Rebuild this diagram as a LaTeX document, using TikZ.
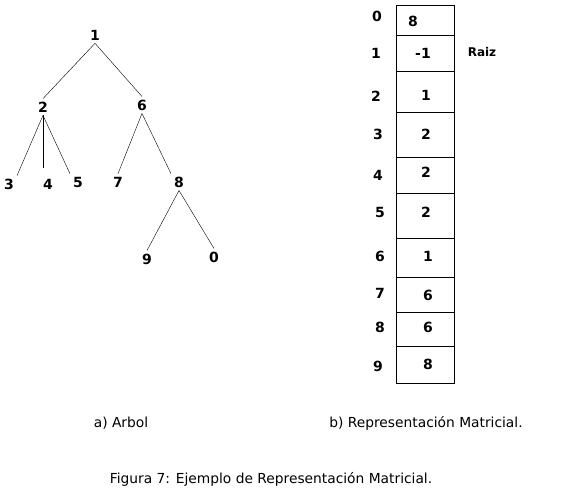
\documentclass[tikz,border=0pt]{standalone}
\usepackage{fontspec}
\setmainfont{DejaVu Sans}
\begin{document}
\begin{tikzpicture}[x=1pt,y=-1pt,
        num/.style={font=\fontsize{14}{14}\selectfont\bfseries, inner sep=3pt},
        caption/.style={font=\fontsize{13.8}{14}\selectfont}]
        \useasboundingbox (0,0) rectangle (588,501);

        \node[num] (n1) at (95,35) {1};
        \node[num] (n2) at (43,107) {2};
        \node[num] (n6) at (142,105) {6};
        \node[num] (n3) at (9,184) {3};
        \node[num] (n4) at (48,184) {4};
        \node[num] (n5) at (78,182) {5};
        \node[num] (n7) at (118,182) {7};
        \node[num] (n8) at (179,182) {8};
        \node[num] (n9) at (147,259) {9};
        \node[num] (n0) at (214,257) {0};

        \draw (n1.south) -- (n2.north);
        \draw (n1.south) -- (n6.north);
        \draw (n2.south) -- (n3.north east);
        \draw (n2.south) -- ([yshift=8pt]n2.south |- n4.north);
        \draw (n2.south) -- (n5.north west);
        \draw (n6.south) -- (n7.north);
        \draw (n6.south) -- (n8.north west);
        \draw (n8.south) -- (n9.north);
        \draw (n8.south) -- (n0.north);

        \draw (396,5) rectangle (454,383);
        \draw (396,35) -- (454,35);
        \draw (396,71) -- (454,71);
        \draw (396,112) -- (454,112);
        \draw (396,157) -- (454,157);
        \draw (396,193) -- (454,193);
        \draw (396,238) -- (454,238);
        \draw (396,277) -- (454,277);
        \draw (396,312) -- (454,312);
        \draw (396,346) -- (454,346);

        \node[num] (i0) at (377,16) {0};
        \node[num] (i1) at (376,53) {1};
        \node[num] (i2) at (376,96) {2};
        \node[num] (i3) at (378,134) {3};
        \node[num] (i4) at (378,175) {4};
        \node[num] (i5) at (380,212) {5};
        \node[num] (i6) at (380,256) {6};
        \node[num] (i7) at (380,293) {7};
        \node[num] (i8) at (380,327) {8};
        \node[num] (i9) at (378,366) {9};

        \node[num] (v0) at (413,21) {8};
        \node[num] (v1) at (423,53) {-1};
        \node[num] (v2) at (426,95) {1};
        \node[num] (v3) at (426,134) {2};
        \node[num] (v4) at (426,172) {2};
        \node[num] (v5) at (426,212) {2};
        \node[num] (v6) at (428,256) {1};
        \node[num] (v7) at (428,295) {6};
        \node[num] (v8) at (428,327) {6};
        \node[num] (v9) at (428,364) {8};

        \node[font=\fontsize{12}{12}\selectfont\bfseries] (raiz) at (482,52) {Raiz};

        \node[caption] (capa) at (121,423) {a) Arbol};
        \node[caption] (capb) at (426,423) {b) Representación Matricial.};
        \node[caption] (fig) at (271,479) {Figura 7: Ejemplo de Representación Matricial.};
\end{tikzpicture}
\end{document}
